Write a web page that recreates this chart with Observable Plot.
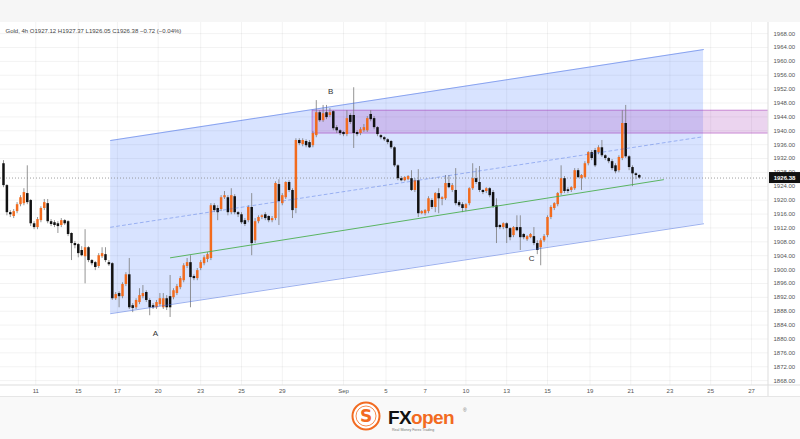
<!DOCTYPE html>
<html><head><meta charset="utf-8">
<script src="https://cdn.jsdelivr.net/npm/d3@7"></script>
<script src="https://cdn.jsdelivr.net/npm/@observablehq/plot@0.6"></script>
<style>
body{margin:0;background:#f6f6f6;width:800px;height:439px;overflow:hidden;font-family:"Liberation Sans",Arial,sans-serif}
#top{height:22px}
#chart svg{display:block;background:#fff}
#logo{position:relative;height:42px;background:#f9f9f9}
</style></head><body>
<div id="top"></div>
<div id="chart"></div>
<div id="logo">
  <svg width="800" height="42" style="position:absolute;left:0;top:0">
    <circle cx="366" cy="19" r="13.5" fill="#fff" stroke="#f26b21" stroke-width="2"></circle>
    <circle cx="366" cy="19" r="10" fill="none" stroke="#f26b21" stroke-width="0.8"></circle>
    <text x="366" y="25" text-anchor="middle" font-family="DejaVu Sans" font-weight="bold" font-size="17" fill="#f26b21">S</text>
    <text x="388" y="27" font-family="Liberation Sans, Arial" font-weight="bold" font-size="19" letter-spacing="-0.6"><tspan fill="#111">FX</tspan><tspan fill="#f26b21">open</tspan></text>
    <text x="463" y="15" font-family="Liberation Sans, Arial" font-size="5" fill="#777">®</text>
    <text x="392" y="33.5" font-family="Liberation Sans, Arial" font-size="3.6" fill="#777">Real Money   Forex Trading</text>
  </svg>
</div>
<script>
// ---- data: Gold 4h candles (bar index order) ----
const open = [1930.5,1924.2,1916.4,1915.3,1916.7,1918.7,1919.0,1921.9,1919.9,1913.2,
1912.1,1914.1,1917.6,1919.0,1913.8,1913.5,1913.2,1912.7,1914.1,1913.8,
1910.4,1907.5,1907.2,1905.5,1903.7,1906.3,1902.6,1902.0,1900.9,1903.7,
1904.3,1902.0,1901.7,1891.6,1893.1,1892.2,1895.7,1898.5,1889.6,1889.0,
1890.5,1892.2,1893.4,1891.1,1889.6,1889.0,1889.9,1889.0,1891.6,1892.2,
1891.9,1893.1,1894.8,1896.8,1900.9,1902.0,1898.0,1897.4,1900.3,1901.7,
1902.9,1903.2,1918.4,1917.6,1917.3,1920.7,1920.7,1916.4,1921.0,1916.4,
1915.8,1914.1,1914.1,1917.9,1908.3,1913.8,1915.0,1915.8,1915.3,1914.1,
1914.7,1924.5,1919.0,1920.7,1925.1,1922.8,1917.6,1937.2,1936.0,1936.9,
1936.6,1935.7,1938.6,1945.2,1942.9,1945.2,1944.4,1945.5,1940.9,1940.0,
1939.5,1938.9,1944.4,1944.4,1939.5,1939.2,1940.0,1940.0,1944.7,1943.5,
1940.9,1938.6,1938.0,1937.4,1936.9,1935.1,1929.9,1926.2,1925.6,1925.9,
1926.2,1922.8,1925.6,1916.1,1916.1,1916.7,1919.9,1917.9,1921.9,1920.2,
1920.4,1924.8,1922.8,1922.8,1919.3,1918.7,1917.6,1919.0,1923.3,1926.2,
1925.1,1922.8,1922.5,1923.3,1922.2,1918.4,1912.7,1912.1,1913.2,1911.8,
1909.8,1912.1,1912.1,1910.1,1908.6,1909.2,1909.5,1907.5,1906.3,1908.3,
1909.8,1915.0,1917.6,1918.7,1921.9,1926.2,1923.0,1922.8,1923.3,1928.5,
1926.2,1926.5,1930.5,1933.7,1934.3,1933.7,1935.1,1932.8,1932.0,1931.1,
1929.9,1928.5,1932.0,1942.1,1932.5,1929.4,1927.6,1927.12];
const high = [1931.4,1924.5,1917.0,1917.3,1919.3,1921.3,1923.3,1929.9,1920.2,1913.8,
1915.0,1918.1,1920.2,1920.2,1914.4,1914.1,1913.8,1914.7,1914.4,1914.1,
1910.6,1908.1,1907.5,1906.6,1911.5,1906.6,1902.9,1902.3,1904.6,1906.3,
1906.3,1902.6,1902.0,1893.4,1893.6,1896.2,1899.1,1903.2,1890.2,1891.6,
1894.5,1895.4,1893.9,1891.6,1890.2,1891.1,1893.1,1893.1,1892.5,1898.3,
1894.5,1895.7,1898.0,1901.7,1903.2,1904.0,1898.5,1900.3,1902.6,1904.0,
1904.9,1919.0,1919.0,1918.4,1921.3,1922.5,1921.3,1923.3,1921.6,1916.7,
1916.4,1914.7,1918.4,1921.9,1914.7,1915.5,1915.8,1916.4,1915.5,1915.3,
1925.3,1925.9,1921.9,1925.3,1925.6,1923.3,1937.7,1937.7,1937.7,1937.4,
1937.2,1939.8,1948.7,1945.8,1947.3,1947.3,1946.4,1945.8,1941.5,1940.3,
1939.8,1945.8,1944.9,1952.4,1940.0,1940.9,1941.8,1944.1,1945.8,1944.1,
1941.2,1938.9,1938.3,1937.7,1937.2,1935.4,1930.2,1926.8,1926.8,1927.1,
1928.5,1926.2,1928.8,1917.0,1917.3,1921.0,1920.4,1922.2,1923.3,1921.0,
1927.1,1927.1,1924.8,1929.1,1919.9,1919.3,1919.0,1923.6,1930.5,1929.1,
1929.7,1923.0,1923.6,1923.6,1922.8,1920.4,1913.0,1913.5,1913.5,1912.1,
1912.4,1915.5,1915.5,1910.4,1909.8,1910.4,1912.1,1908.3,1908.9,1910.1,
1915.5,1918.4,1919.3,1922.2,1929.9,1926.8,1923.6,1923.9,1929.1,1929.1,
1927.4,1931.1,1934.0,1934.3,1934.9,1935.7,1937.2,1933.1,1932.3,1931.7,
1930.5,1932.8,1945.8,1947.3,1932.8,1929.9,1927.9,1927.37];
const low = [1923.6,1915.5,1915.0,1914.7,1916.1,1918.1,1918.4,1918.7,1912.4,1911.5,
1911.5,1913.5,1917.0,1913.2,1912.4,1912.1,1910.4,1912.1,1912.7,1909.5,
1902.6,1906.0,1903.4,1903.7,1895.9,1902.0,1901.1,1899.7,1900.3,1903.2,
1902.0,1900.9,1891.1,1891.1,1889.0,1891.6,1895.1,1888.5,1887.6,1888.5,
1889.9,1891.6,1890.5,1886.7,1888.5,1888.5,1889.3,1888.5,1888.2,1886.2,
1891.3,1892.5,1894.2,1896.2,1900.3,1889.0,1896.8,1896.8,1899.7,1901.1,
1902.0,1902.6,1916.4,1914.1,1916.7,1920.2,1915.5,1915.8,1915.8,1915.0,
1913.0,1912.4,1913.5,1904.0,1907.5,1913.2,1914.4,1914.1,1913.5,1913.5,
1914.1,1912.7,1918.4,1920.2,1922.2,1914.7,1916.1,1935.7,1935.4,1935.1,
1934.9,1935.1,1938.0,1942.4,1942.4,1943.2,1943.8,1940.0,1939.2,1938.6,
1938.3,1938.3,1941.8,1934.9,1938.3,1938.6,1939.5,1939.5,1942.6,1940.3,
1938.3,1937.4,1936.9,1936.0,1934.6,1929.4,1925.6,1925.3,1925.3,1925.6,
1922.5,1922.2,1915.0,1915.8,1915.5,1916.1,1917.3,1916.4,1916.1,1918.4,
1919.9,1923.3,1922.2,1918.4,1917.9,1916.4,1916.7,1918.4,1922.8,1924.5,
1922.2,1921.6,1921.9,1920.7,1917.6,1907.5,1911.5,1911.5,1907.5,1908.3,
1909.2,1910.9,1905.5,1908.6,1908.1,1908.9,1906.9,1904.3,1901.1,1907.8,
1909.2,1914.4,1917.0,1918.1,1921.3,1921.9,1921.9,1922.2,1922.8,1926.2,
1922.8,1926.2,1929.9,1931.4,1929.4,1933.1,1932.3,1931.4,1930.5,1928.5,
1927.6,1927.9,1931.4,1932.0,1928.5,1923.9,1925.9,1926.05];
const close = [1924.2,1916.4,1915.8,1916.7,1918.7,1920.7,1922.2,1919.3,1913.2,1912.1,
1914.4,1917.6,1919.3,1913.8,1913.0,1912.7,1912.4,1914.1,1913.2,1910.1,
1907.5,1906.9,1904.6,1904.0,1906.3,1902.6,1901.7,1900.6,1904.0,1904.6,
1902.6,1901.4,1891.6,1892.8,1892.2,1895.7,1898.5,1889.0,1888.8,1891.1,
1892.5,1893.1,1891.1,1889.0,1889.0,1890.5,1891.6,1891.6,1889.0,1889.0,
1893.9,1895.1,1897.4,1901.1,1902.0,1897.7,1897.4,1899.7,1902.0,1903.4,
1904.3,1918.4,1917.0,1916.4,1920.7,1921.3,1916.4,1921.3,1916.4,1915.8,
1913.5,1913.0,1917.9,1907.5,1913.8,1915.0,1915.5,1914.7,1914.1,1914.7,
1924.8,1919.6,1921.3,1925.1,1922.8,1917.0,1937.2,1936.3,1937.2,1935.7,
1935.1,1939.2,1945.2,1942.9,1944.9,1943.8,1945.2,1940.6,1940.0,1939.2,
1938.9,1943.5,1942.4,1939.2,1938.9,1940.3,1940.9,1943.5,1943.2,1940.9,
1938.9,1938.0,1937.4,1936.6,1935.1,1929.9,1926.2,1925.6,1926.5,1926.8,
1922.8,1925.6,1916.1,1916.7,1917.0,1920.4,1917.9,1921.9,1920.4,1920.7,
1924.8,1923.6,1924.2,1919.0,1918.4,1917.6,1918.7,1923.3,1926.2,1925.1,
1922.8,1922.2,1923.3,1921.3,1918.1,1912.1,1912.1,1913.2,1911.8,1909.2,
1912.1,1911.2,1909.2,1909.2,1909.5,1910.1,1907.5,1905.5,1908.3,1909.5,
1915.0,1917.9,1919.0,1921.9,1926.2,1922.5,1922.5,1923.6,1928.5,1926.5,
1927.1,1930.5,1933.7,1932.0,1929.9,1935.1,1932.8,1932.0,1931.1,1929.1,
1928.2,1932.3,1942.1,1932.5,1929.4,1927.6,1927.1,1926.38];

// axis ticks
const priceTicks = [1868,1872,1876,1880,1884,1888,1892,1896,1900,1904,1908,1912,1916,1920,1924,1928,1932,1936,1940,1944,1948,1952,1956,1960,1964,1968];
const dateTickBars = [9.5,22,33.5,45.5,58,70,82,100,112.5,124,136,148,160,172.5,184.5,196,208,220];
const dateLabels = ["11","15","17","20","23","25","29","Sep","5","7","10","13","15","19","21","23","25","27"];

// drawings (bar index, price)
const channelBars = [31.5, 205.9];
const channelUpper = [1937.2, 1963.4];
const channelLower = [1887.3, 1913.2];
const channelMid = [1912.2, 1938.3];
const trendBars = [49.1, 194.1];
const trendPrices = [1903.4, 1925.9];
const zoneBars = [90.9, 240];
const zonePrices = [1939.2, 1945.8];
const waveNames = ["A","B","C"];
const waveBars = [44.7, 96.2, 155.3];
const wavePrices = [1881.5, 1951.3, 1903.2];
const header = "Gold, 4h O1927.12 H1927.37 L1926.05 C1926.38 −0.72 (−0.04%)";
const lastClose = close[close.length - 1];

const candles = open.map((o, i) => ({i, o, h: high[i], l: low[i], c: close[i]}));
const up = candles.filter(d => d.c >= d.o);
const down = candles.filter(d => d.c < d.o);
const channel = channelBars.map((b, k) => ({b, lo: channelLower[k], hi: channelUpper[k], mid: channelMid[k]}));
const trend = trendBars.map((b, k) => ({b, p: trendPrices[k]}));
const zone = [{x1: zoneBars[0], x2: zoneBars[1], y1: zonePrices[0], y2: zonePrices[1]}];
const waves = waveNames.map((t, k) => ({t, b: waveBars[k], p: wavePrices[k]}));
const labelMap = new Map(dateTickBars.map((b, k) => [b, dateLabels[k]]));

const chart = Plot.plot({
  width: 800, height: 375,
  marginTop: 0, marginBottom: 12, marginLeft: 0, marginRight: 32,
  style: {fontFamily: "Liberation Sans, Arial, sans-serif", fontSize: "6px", color: "#555", background: "#fff"},
  x: {domain: [-0.88, 225], axis: null},
  y: {domain: [1866.6, 1971.2], axis: null},
  marks: [
    Plot.gridY(priceTicks, {stroke: "#000", strokeOpacity: 0.05}),
    Plot.gridX(dateTickBars, {stroke: "#000", strokeOpacity: 0.05}),
    Plot.axisY(priceTicks, {anchor: "right", tickSize: 0, tickPadding: 5, tickFormat: d3.format(".2f"), fill: "#555"}),
    Plot.axisX(dateTickBars, {anchor: "bottom", tickSize: 0, tickPadding: 3, tickFormat: d => labelMap.get(d), fill: "#555"}),
    Plot.areaY(channel, {x: "b", y1: "lo", y2: "hi", fill: "#2962ff", fillOpacity: 0.18, curve: "linear"}),
    Plot.rect(zone, {x1: "x1", x2: "x2", y1: "y1", y2: "y2", fill: "#9c27b0", fillOpacity: 0.2, stroke: "#9c27b0", strokeOpacity: 0.6, strokeWidth: 0.8, clip: true}),
    Plot.ruleY([lastClose], {stroke: "#888", strokeDasharray: "1,2", strokeWidth: 0.8}),
    Plot.ruleX(candles, {x: "i", y1: "l", y2: "h", stroke: "#7a7a7a", strokeWidth: 0.8}),
    Plot.ruleX(up, {x: "i", y1: "o", y2: "c", stroke: "#f26b1d", strokeWidth: 2.5}),
    Plot.ruleX(down, {x: "i", y1: "o", y2: "c", stroke: "#111", strokeWidth: 2.5}),
    Plot.line(channel, {x: "b", y: "hi", stroke: "#3f67e0", strokeOpacity: 0.75, strokeWidth: 0.7}),
    Plot.line(channel, {x: "b", y: "lo", stroke: "#3f67e0", strokeOpacity: 0.75, strokeWidth: 0.7}),
    Plot.line(channel, {x: "b", y: "mid", stroke: "#3f67e0", strokeOpacity: 0.6, strokeWidth: 0.7, strokeDasharray: "3,3"}),
    Plot.line(trend, {x: "b", y: "p", stroke: "#4caf50", strokeWidth: 0.9}),
    Plot.text(waves, {x: "b", y: "p", text: "t", fontSize: 8, fill: "#333"}),
    Plot.text([header], {frameAnchor: "top-left", dx: 5, dy: 6, fontSize: 6, fill: "#444", textAnchor: "start"})
  ]
});
document.getElementById("chart").append(chart);

// axis panel separators and last-price tag
const svg = d3.select(chart);
const xr = chart.scale("x").range, yr = chart.scale("y").range;
const right = xr[1], bottom = yr[0];
svg.append("line").attr("x1", right).attr("x2", right).attr("y1", 0).attr("y2", 375).attr("stroke", "#ddd");
svg.append("line").attr("x1", 0).attr("x2", 800).attr("y1", bottom).attr("y2", bottom).attr("stroke", "#ddd");
svg.append("line").attr("x1", 0).attr("x2", 800).attr("y1", 374.5).attr("y2", 374.5).attr("stroke", "#e6e6e6");
const ly = chart.scale("y").apply(lastClose);
svg.append("rect").attr("x", right + 1).attr("y", ly - 5.5).attr("width", 31).attr("height", 11).attr("fill", "#111");
svg.append("text").attr("x", right + 16.5).attr("y", ly).attr("dy", "0.35em").attr("text-anchor", "middle")
  .attr("font-size", 6).attr("font-weight", "bold").attr("fill", "#fff").text(d3.format(".2f")(lastClose));
</script>
</body></html>
